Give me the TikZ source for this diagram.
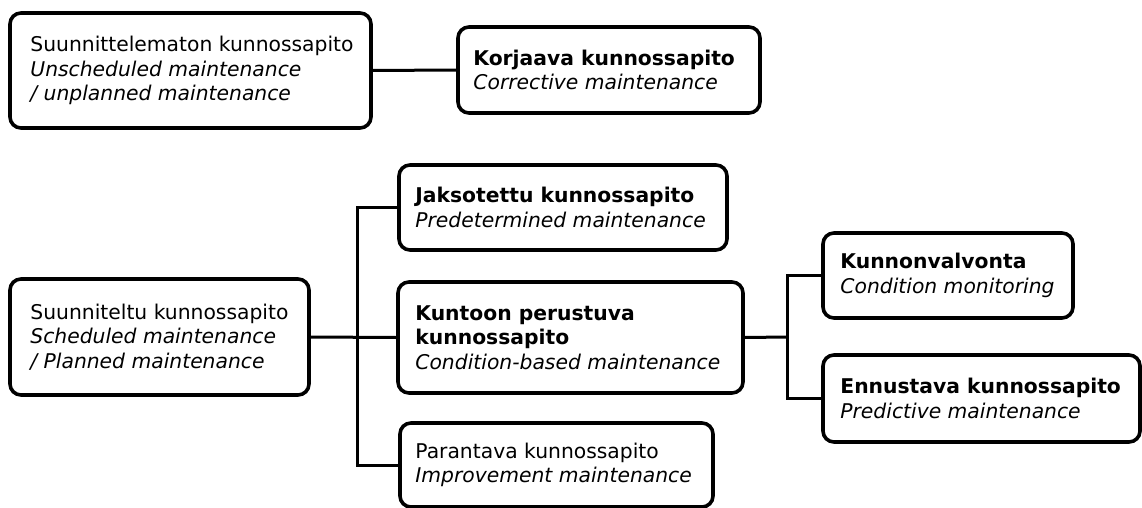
\documentclass[tikz,border=0pt]{standalone}
\usepackage{fontspec}
\setmainfont{DejaVu Sans}
\begin{document}
\begin{tikzpicture}[x=1pt,y=-1pt,
  box/.style={draw=black, line width=3.6pt, rounded corners=11pt, fill=white,
    inner sep=0pt},
  txt/.style={align=left, inner sep=0pt, anchor=west,
    font=\fontsize{20.3}{24.5}\selectfont},
  link/.style={draw=black, line width=3pt}]
\useasboundingbox (0,0) rectangle (1142,508);

\node[box, minimum width=361pt, minimum height=115pt] (A) at (190.5,70.5) {};
\node[txt] (At) at ([xshift=22pt]A.west)
  {Suunnittelematon kunnossapito\\\textit{Unscheduled maintenance}\\\textit{/ unplanned maintenance}};
\node[box, minimum width=302pt, minimum height=86pt] (B) at (609,70) {};
\node[txt] (Bt) at ([xshift=17pt]B.west)
  {\textbf{Korjaava kunnossapito}\\\textit{Corrective maintenance}};
\node[box, minimum width=299pt, minimum height=116pt] (C) at (159.5,337) {};
\node[txt] (Ct) at ([xshift=22pt]C.west)
  {Suunniteltu kunnossapito\\\textit{Scheduled maintenance}\\\textit{/ Planned maintenance}};
\node[box, minimum width=328pt, minimum height=85pt] (D) at (563,207.5) {};
\node[txt] (Dt) at ([xshift=18pt]D.west)
  {\textbf{Jaksotettu kunnossapito}\\\textit{Predetermined maintenance}};
\node[box, minimum width=345pt, minimum height=111pt] (E) at (570.5,337.5) {};
\node[txt] (Et) at ([xshift=19pt]E.west)
  {\textbf{Kuntoon perustuva}\\\textbf{kunnossapito}\\\textit{Condition-based maintenance}};
\node[box, minimum width=313pt, minimum height=84pt] (F) at (556.5,465) {};
\node[txt] (Ft) at ([xshift=17pt]F.west)
  {Parantava kunnossapito\\\textit{Improvement maintenance}};
\node[box, minimum width=250pt, minimum height=85pt] (G) at (948,275.5) {};
\node[txt] (Gt) at ([xshift=19pt]G.west)
  {\textbf{Kunnonvalvonta}\\\textit{Condition monitoring}};
\node[box, minimum width=317pt, minimum height=87pt] (H) at (981.5,398.5) {};
\node[txt] (Ht) at ([xshift=19pt]H.west)
  {\textbf{Ennustava kunnossapito}\\\textit{Predictive maintenance}};

\coordinate (j1) at (357,337);
\coordinate (j2) at (787,337);

\draw[link] (A.east) -- (B.west);
\draw[link] (C.east) -- (E.west);
\draw[link] (D.west) -| (j1) |- (F.west);
\draw[link] (E.east) -- (j2);
\draw[link] (G.west) -| (j2) |- (H.west);
\end{tikzpicture}
\end{document}
